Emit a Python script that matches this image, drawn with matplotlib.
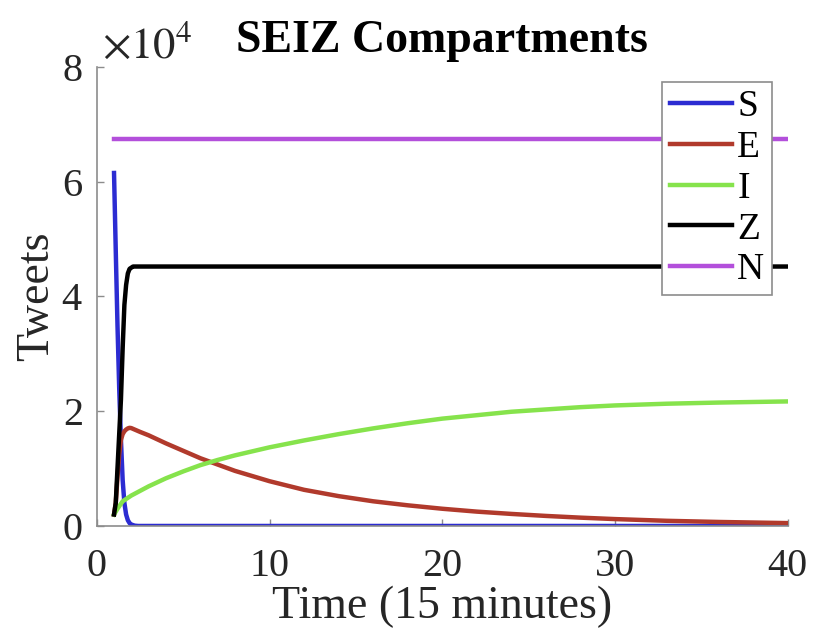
import numpy as np
import matplotlib.pyplot as plt
from matplotlib.ticker import ScalarFormatter

plt.rcParams['font.family'] = ['Liberation Serif', 'DejaVu Serif']
plt.rcParams['mathtext.fontset'] = 'stix'

# time steps (15 minute intervals) and compartment sizes, in tweets
t_S = [1, 1.1, 1.2, 1.3, 1.4, 1.5, 1.6, 1.7, 1.8, 1.9, 2.0, 2.2, 2.4, 40]
S = [61500, 48000, 35000, 24000, 15000, 8000, 4000, 2000, 1000, 500, 250, 50, 0, 0]

t_E = [1, 1.1, 1.2, 1.3, 1.4, 1.5, 1.6, 1.7, 1.8, 1.9, 2.0, 2.5, 3, 4, 5, 6, 7, 8, 10, 12, 14,
       16, 18, 20, 22, 24, 26, 28, 30, 33, 36, 40]
E = [2000, 4000, 8500, 12500, 15000, 16000, 16500, 16800, 17000, 17100, 17050, 16400, 15800,
     14400, 13100, 11800, 10700, 9600, 7800, 6300, 5200, 4300, 3600, 3000, 2500, 2100, 1750,
     1450, 1200, 900, 700, 500]

t_I = [1, 1.2, 1.5, 2, 2.5, 3, 4, 5, 6, 7, 8, 10, 12, 14, 16, 18, 20, 22, 24, 26, 28, 30, 33,
       36, 40]
I = [2000, 3000, 4300, 5300, 6100, 6900, 8300, 9500, 10600, 11500, 12300, 13700, 14900, 16000,
     17000, 17900, 18700, 19300, 19900, 20300, 20700, 21000, 21300, 21500, 21700]

t_Z = [1, 1.1, 1.2, 1.3, 1.4, 1.5, 1.6, 1.7, 1.8, 1.9, 2.0, 2.1, 2.3, 40]
Z = [2000, 4000, 10000, 16000, 22000, 31000, 38500, 42000, 44000, 44800, 45000, 45200, 45200,
     45200]

t_N = [1, 40]
N = [67400, 67400]

fig, ax = plt.subplots(figsize=(8.13, 6.36), dpi=100)
fig.subplots_adjust(left=0.119, right=0.969, bottom=0.173, top=0.895)

lw = 3.2
ax.plot(t_S, S, color='#2c2cd2', lw=lw, label='S')
ax.plot(t_E, E, color='#b13a2c', lw=lw, label='E')
ax.plot(t_I, I, color='#86e34c', lw=lw, label='I')
ax.plot(t_Z, Z, color='black', lw=lw, label='Z')
ax.plot(t_N, N, color='#b34fdb', lw=lw, label='N')

ax.set_xlim(0, 40)
ax.set_ylim(0, 80000)
ax.set_xticks([0, 10, 20, 30, 40])
ax.set_yticks([0, 20000, 40000, 60000, 80000])

# tick labels in units of 1e4, exponent drawn separately above the axis
fmt = ScalarFormatter(useMathText=True)
fmt.set_powerlimits((0, 0))
ax.yaxis.set_major_formatter(fmt)
ax.yaxis.get_offset_text().set_visible(False)
ax.text(0.008, 1.02, r'$\times10^{4}$', transform=ax.transAxes, fontsize=32,
        color='#262626', ha='left', va='baseline')

for side in ['top', 'right']:
    ax.spines[side].set_visible(False)
for side in ['left', 'bottom']:
    ax.spines[side].set_color('#8c8c8c')
    ax.spines[side].set_linewidth(1.2)
ax.tick_params(direction='in', length=5, width=1, color='#8c8c8c',
               labelsize=29, labelcolor='#262626', pad=10)
ax.tick_params(axis='x', pad=16)

ax.set_xlabel('Time (15 minutes)', fontsize=33, color='#262626', labelpad=0)
ax.set_ylabel('Tweets', fontsize=33, color='#262626', labelpad=2)
ax.set_title('SEIZ Compartments', fontsize=33, fontweight='bold', pad=11)

leg = ax.legend(loc='upper right', bbox_to_anchor=(0.977, 0.967), fontsize=27,
                handlelength=1.65, handletextpad=0.15, labelspacing=0.17,
                borderpad=0.2, borderaxespad=0, fancybox=False, framealpha=1)
leg.get_frame().set_edgecolor('#8c8c8c')
leg.get_frame().set_linewidth(1.2)

fig.savefig('out.png', dpi=100)
